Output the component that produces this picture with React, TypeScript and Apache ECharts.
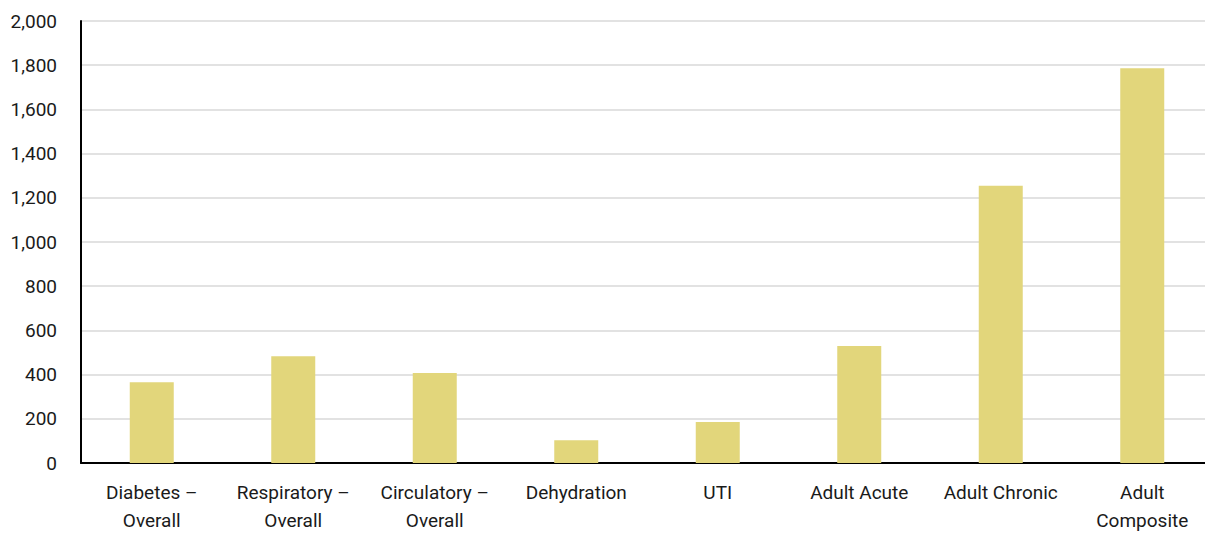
import React, { useEffect, useRef } from "react";
import * as echarts from "echarts";

const categories = [
  "Diabetes –\nOverall",
  "Respiratory –\nOverall",
  "Circulatory –\nOverall",
  "Dehydration",
  "UTI",
  "Adult Acute",
  "Adult Chronic",
  "Adult\nComposite",
];
const values = [365, 483, 407, 103, 186, 529, 1255, 1786];

const FONT = "Roboto, 'Noto Sans', sans-serif";

export default function App() {
  const ref = useRef<HTMLDivElement>(null);
  useEffect(() => {
    if (!ref.current) return;
    const chart = echarts.init(ref.current, null, { renderer: "svg" });
    chart.setOption({
      animation: false,
      backgroundColor: "#ffffff",
      grid: { left: 81, top: 21, right: 0, bottom: 72, containLabel: false },
      xAxis: {
        type: "category",
        data: categories,
        axisLine: { show: true, lineStyle: { color: "#000000", width: 2 } },
        axisTick: { show: false },
        axisLabel: {
          interval: 0,
          color: "#1a1a1a",
          fontFamily: FONT,
          fontSize: 19,
          lineHeight: 28,
          margin: 15,
          verticalAlign: "top",
        },
      },
      yAxis: {
        type: "value",
        min: 0,
        max: 2000,
        interval: 200,
        axisLine: { show: true, lineStyle: { color: "#000000", width: 2 } },
        axisTick: { show: false },
        splitLine: { show: true, lineStyle: { color: "#d9d9d9", width: 1.5 } },
        axisLabel: {
          color: "#1a1a1a",
          fontFamily: FONT,
          fontSize: 19,
          margin: 24,
          formatter: (v: number) => v.toLocaleString("en-US"),
        },
      },
      series: [
        {
          type: "bar",
          data: values,
          barWidth: 44,
          itemStyle: { color: "#e2d67b" },
        },
      ],
    });
    return () => chart.dispose();
  }, []);
  return (
    <div
      ref={ref}
      style={{ position: "fixed", left: 0, top: 0, width: 1213, height: 535, background: "#fff" }}
    />
  );
}
